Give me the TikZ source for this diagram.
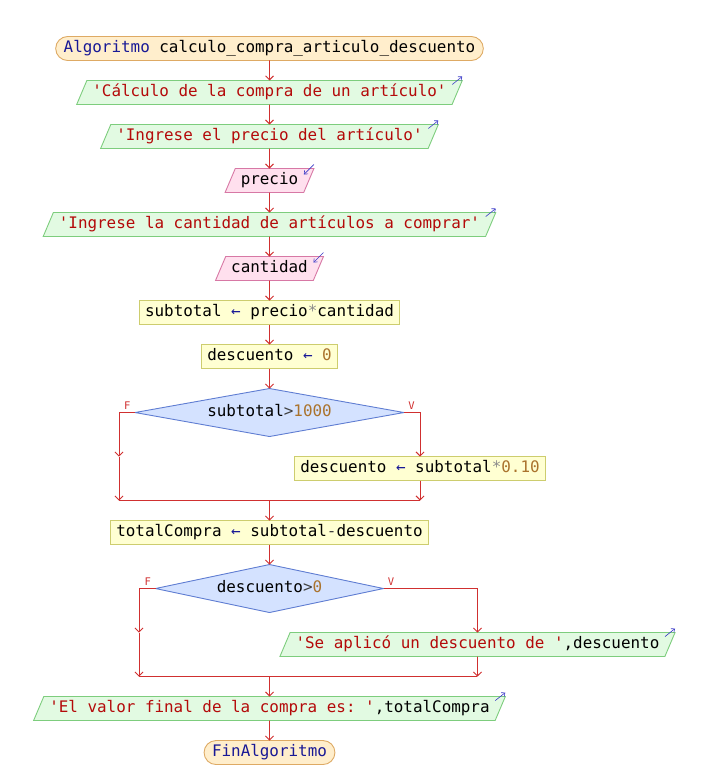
\documentclass[tikz,border=0pt]{standalone}
\usepackage{fontspec}
\setmonofont{DejaVu Sans Mono}
\usepackage{xcolor}
\usepackage{tikz}
\usetikzlibrary{arrows.meta,shapes.geometric,positioning,calc}

\definecolor{flowred}{RGB}{208,48,48}
\definecolor{termfill}{RGB}{255,238,204}
\definecolor{termline}{RGB}{222,170,100}
\definecolor{outfill}{RGB}{226,250,226}
\definecolor{outborder}{RGB}{125,205,125}
\definecolor{infill}{RGB}{255,224,238}
\definecolor{inborder}{RGB}{215,120,165}
\definecolor{asgfill}{RGB}{255,255,210}
\definecolor{asgborder}{RGB}{205,205,110}
\definecolor{decfill}{RGB}{212,226,255}
\definecolor{decborder}{RGB}{95,125,210}
\definecolor{kwblue}{RGB}{25,25,150}
\definecolor{strred}{RGB}{180,10,10}
\definecolor{numbrown}{RGB}{170,115,45}
\definecolor{markblue}{RGB}{60,60,200}

\newcommand{\pkw}[1]{\textcolor{kwblue}{#1}}
\newcommand{\pstr}[1]{\textcolor{strred}{#1}}
\newcommand{\pnum}[1]{\textcolor{numbrown}{#1}}
\newcommand{\pop}[1]{\textcolor{black!75}{#1}}
\newcommand{\pmul}{\textcolor{black!45}{*}}
\newcommand{\pasg}{\textcolor{kwblue}{←}}

\begin{document}
\begin{tikzpicture}[x=1pt,y=1pt,line width=0.9pt,node distance=20pt,
  >={Straight Barb[length=4pt,width=8pt]},
  flow/.style={->,draw=flowred},
  base/.style={draw,font=\ttfamily\frenchspacing\fontsize{15.9}{19}\selectfont,
    text height=12pt,text depth=4pt,inner ysep=4pt,inner xsep=5.5pt,outer sep=0pt},
  term/.style={base,rectangle,rounded corners=12pt,fill=termfill,draw=termline,inner xsep=8pt},
  outbox/.style={base,trapezium,trapezium left angle=67,trapezium right angle=113,
    fill=outfill,draw=outborder},
  inbox/.style={outbox,fill=infill,draw=inborder},
  assign/.style={base,rectangle,fill=asgfill,draw=asgborder},
  decision/.style={base,diamond,aspect=5.6,inner sep=0pt,minimum width=269pt,
    minimum height=48pt,fill=decfill,draw=decborder},
  flag/.style={font=\ttfamily\fontsize{10.5}{12}\selectfont,text=flowred,
    inner xsep=4pt,inner ysep=2.5pt},
  iomark/.style={->,draw=markblue,line width=0.6pt,>={Straight Barb[length=3pt,width=5pt]}}]
    \useasboundingbox (0,0) rectangle (705,-776);

    \node[term] (start) at (269.5,-48.5) {\pkw{Algoritmo} calculo\_compra\_articulo\_descuento};
    \node[outbox] (o1) [below = of start] {\pstr{'Cálculo de la compra de un artículo'}};
    \node[outbox] (o2) [below = of o1] {\pstr{'Ingrese el precio del artículo'}};
    \node[inbox] (i1) [below = of o2] {precio};
    \node[outbox] (o3) [below = of i1] {\pstr{'Ingrese la cantidad de artículos a comprar'}};
    \node[inbox] (i2) [below = of o3] {cantidad};
    \node[assign] (a1) [below = of i2] {subtotal \pasg{} precio\pmul{}cantidad};
    \node[assign] (a2) [below = of a1] {descuento \pasg{} \pnum{0}};
    \node[decision] (d1) [below = of a2] {subtotal\pop{>}\pnum{1000}};

    % first branch
    \coordinate (l1) at ($(d1.west)+(-16,0)$);
    \coordinate (r1) at ($(d1.east)+(16,0)$);
    \node[assign,anchor=north] (a3) at ($(d1.south -| r1)+(0,-20)$) {descuento \pasg{} subtotal\pmul{}\pnum{0.10}};
    \coordinate (m1) at ($(d1 |- a3.south)+(0,-20)$);

    \node[assign] (a4) [below = of m1] {totalCompra \pasg{} subtotal\pop{-}descuento};
    \node[decision,minimum width=228pt] (d2) [below = of a4] {descuento\pop{>}\pnum{0}};

    % second branch
    \coordinate (l2) at ($(d2.west)+(-16.5,0)$);
    \coordinate (r2) at ($(d2.center)+(208,0)$);
    \node[outbox,anchor=north] (o4) at ($(d2.south -| r2)+(0,-20)$) {\pstr{'Se aplicó un descuento de '},descuento};
    \coordinate (m2) at ($(d2 |- o4.south)+(0,-20)$);

    \node[outbox] (o5) [below = of m2] {\pstr{'El valor final de la compra es: '},totalCompra};
    \node[term] (end) [below = of o5] {\pkw{FinAlgoritmo}};

    \foreach \a/\b in {start/o1,o1/o2,o2/i1,i1/o3,o3/i2,i2/a1,a1/a2,a2/d1,a4/d2,o5/end}
      \draw[flow] (\a) -- (\b);

    \draw[flow] (d1.west) node[flag,above left] {F} -| (l1 |- a3.north);
    \draw[flow] (l1 |- a3.north) -- (l1 |- m1);
    \draw[flow] (d1.east) node[flag,above right] {V} -| (a3.north);
    \draw[flow] (a3) -- (a3 |- m1);
    \draw[flowred] (l1 |- m1) -- (a3 |- m1);
    \draw[flow] (m1) -- (a4);

    \draw[flow] (d2.west) node[flag,above left] {F} -| (l2 |- o4.north);
    \draw[flow] (l2 |- o4.north) -- (l2 |- m2);
    \draw[flow] (d2.east) node[flag,above right] {V} -| (o4.north);
    \draw[flow] (o4) -- (o4 |- m2);
    \draw[flowred] (l2 |- m2) -- (o4 |- m2);
    \draw[flow] (m2) -- (o5);

    \foreach \n in {o1,o2,o3,o4,o5}
      \draw[iomark] ($(\n.top right corner)+(-10,-4)$) -- ++(10,8);
    \foreach \n in {i1,i2}
      \draw[iomark] ($(\n.top right corner)+(0,4)$) -- ++(-10,-10);
\end{tikzpicture}
\end{document}
